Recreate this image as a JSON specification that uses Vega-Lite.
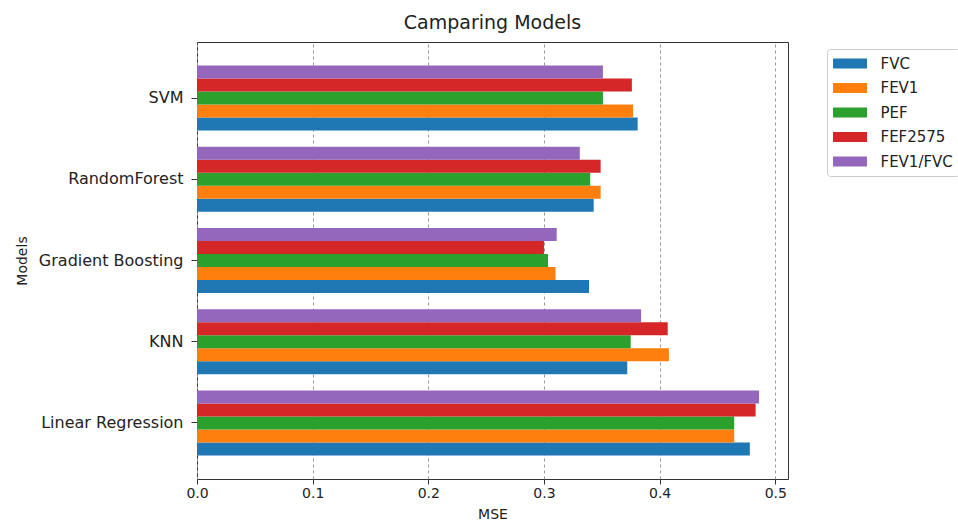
{
  "$schema": "https://vega.github.io/schema/vega-lite/v6.json",
  "autosize": "none",
  "width": 591,
  "height": 437,
  "padding": {"left": 197, "top": 42, "right": 170, "bottom": 45},
  "background": "white",
  "title": {"text": "Camparing Models", "font": "DejaVu Sans", "fontSize": 19, "fontWeight": "normal", "color": "#222", "offset": 9},
  "config": {
    "view": {"stroke": "#333", "strokeWidth": 1},
    "font": "DejaVu Sans"
  },
  "data": {"values": [
    {"model": "SVM", "metric": "FVC", "mse": 0.381},
    {"model": "SVM", "metric": "FEV1", "mse": 0.377},
    {"model": "SVM", "metric": "PEF", "mse": 0.351},
    {"model": "SVM", "metric": "FEF2575", "mse": 0.376},
    {"model": "SVM", "metric": "FEV1/FVC", "mse": 0.351},
    {"model": "RandomForest", "metric": "FVC", "mse": 0.343},
    {"model": "RandomForest", "metric": "FEV1", "mse": 0.349},
    {"model": "RandomForest", "metric": "PEF", "mse": 0.340},
    {"model": "RandomForest", "metric": "FEF2575", "mse": 0.349},
    {"model": "RandomForest", "metric": "FEV1/FVC", "mse": 0.331},
    {"model": "Gradient Boosting", "metric": "FVC", "mse": 0.339},
    {"model": "Gradient Boosting", "metric": "FEV1", "mse": 0.310},
    {"model": "Gradient Boosting", "metric": "PEF", "mse": 0.3035},
    {"model": "Gradient Boosting", "metric": "FEF2575", "mse": 0.300},
    {"model": "Gradient Boosting", "metric": "FEV1/FVC", "mse": 0.311},
    {"model": "KNN", "metric": "FVC", "mse": 0.372},
    {"model": "KNN", "metric": "FEV1", "mse": 0.408},
    {"model": "KNN", "metric": "PEF", "mse": 0.375},
    {"model": "KNN", "metric": "FEF2575", "mse": 0.407},
    {"model": "KNN", "metric": "FEV1/FVC", "mse": 0.384},
    {"model": "Linear Regression", "metric": "FVC", "mse": 0.478},
    {"model": "Linear Regression", "metric": "FEV1", "mse": 0.4645},
    {"model": "Linear Regression", "metric": "PEF", "mse": 0.4645},
    {"model": "Linear Regression", "metric": "FEF2575", "mse": 0.483},
    {"model": "Linear Regression", "metric": "FEV1/FVC", "mse": 0.486}
  ]},
  "mark": {"type": "bar", "strokeWidth": 0},
  "encoding": {
    "y": {
      "field": "model", "type": "nominal",
      "sort": ["SVM", "RandomForest", "Gradient Boosting", "KNN", "Linear Regression"],
      "scale": {"paddingInner": 0.2, "paddingOuter": 0.29},
      "axis": {"title": "Models", "titleFont": "DejaVu Sans", "titleFontSize": 14, "titleFontWeight": "normal", "titleColor": "#222", "titlePadding": 9,
               "labelFont": "DejaVu Sans", "labelFontSize": 16, "labelColor": "#222", "tickColor": "#333", "tickSize": 6, "domain": false, "grid": false, "labelPadding": 8}
    },
    "yOffset": {
      "field": "metric", "type": "nominal",
      "sort": ["FEV1/FVC", "FEF2575", "PEF", "FEV1", "FVC"],
      "scale": {"paddingInner": 0, "paddingOuter": 0}
    },
    "x": {
      "field": "mse", "type": "quantitative",
      "scale": {"domain": [0, 0.511], "nice": false, "zero": true},
      "axis": {"title": "MSE", "titleFont": "DejaVu Sans", "titleFontSize": 14, "titleFontWeight": "normal", "titleColor": "#222", "titlePadding": 7,
               "values": [0, 0.1, 0.2, 0.3, 0.4, 0.5], "format": ".1f",
               "labelFont": "DejaVu Sans", "labelFontSize": 14, "labelColor": "#222", "tickColor": "#333", "tickSize": 5, "domain": false,
               "grid": true, "gridColor": "#999", "gridDash": [3, 3], "gridWidth": 1, "labelFlush": false}
    },
    "color": {
      "field": "metric", "type": "nominal",
      "sort": ["FVC", "FEV1", "PEF", "FEF2575", "FEV1/FVC"],
      "scale": {"domain": ["FVC", "FEV1", "PEF", "FEF2575", "FEV1/FVC"], "range": ["#1f77b4", "#ff7f0e", "#2ca02c", "#d62728", "#9467bd"]},
      "legend": {
        "title": null, "orient": "none", "legendX": 630, "legendY": 7,
        "strokeColor": "#ccc", "cornerRadius": 3, "padding": 6, "fillColor": "white",
        "symbolType": "M-2,-0.6H2V0.6H-2Z", "symbolSize": 289, "symbolStrokeWidth": 0, "symbolOffset": 8.5,
        "labelFont": "DejaVu Sans", "labelFontSize": 15, "labelColor": "#222", "labelOffset": 22,
        "rowPadding": 7.5, "symbolOpacity": 1
      }
    }
  }
}
